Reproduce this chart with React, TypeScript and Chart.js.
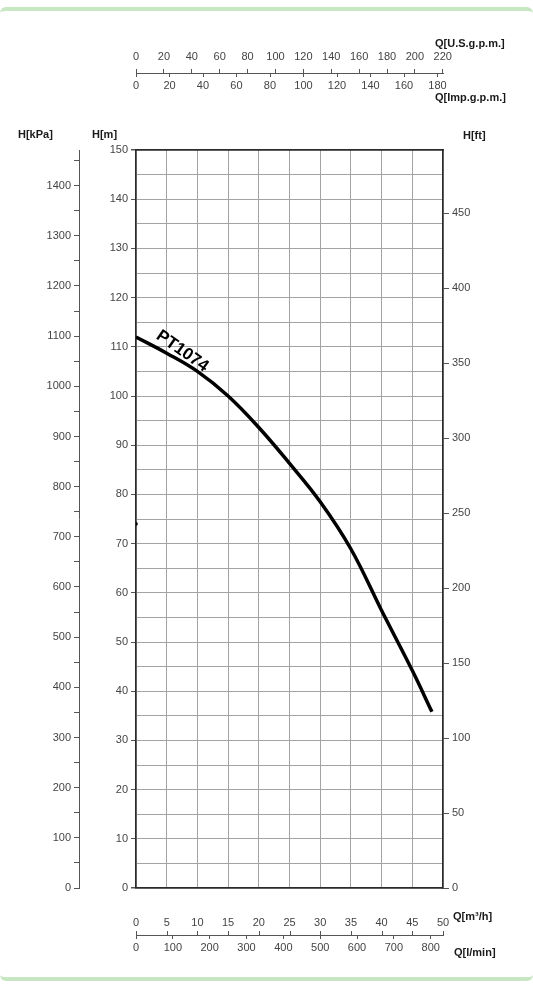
import React, { useEffect, useRef } from 'react';
import { Chart, registerables } from 'chart.js';

Chart.register(...registerables);

// ---- data ----
const flowM3h = [0, 5, 10, 15, 20, 25, 30, 35, 40, 45, 48.2];
const headM = [112, 108.7, 105, 100, 93.6, 86.3, 78.5, 68.9, 56.4, 44.2, 35.8];
const markFlow = [0];
const markHead = [74];

const curveName = 'PT1074';
const curveNameFlow = 7.55;
const curveNameHead = 109.1;

// ---- tick labels ----
const m3hTicks = [0, 5, 10, 15, 20, 25, 30, 35, 40, 45, 50];
const lminTicks = [0, 100, 200, 300, 400, 500, 600, 700, 800];
const usGpmTicks = [0, 20, 40, 60, 80, 100, 120, 140, 160, 180, 200, 220];
const impGpmTicks = [0, 20, 40, 60, 80, 100, 120, 140, 160, 180];
const mTicks = [0, 10, 20, 30, 40, 50, 60, 70, 80, 90, 100, 110, 120, 130, 140, 150];
const kpaTicks = [0, 100, 200, 300, 400, 500, 600, 700, 800, 900, 1000, 1100, 1200, 1300, 1400];
const ftTicks = [0, 50, 100, 150, 200, 250, 300, 350, 400, 450];

// ---- axis ranges / unit conversions ----
const Q_MAX = 50;
const H_MAX = 150;
const KPA_PER_M = 9.80665;
const FT_PER_M = 1 / 0.3048;
const USGPM_PER_M3H = 4.402868;
const IMPGPM_PER_M3H = 3.666154;
const LMIN_PER_M3H = 1000 / 60;

const BORDER = '#2b2b2b';
const GRID = '#a3a3a3';
const TICK = '#555555';
const LABEL = '#444444';
const FONT = '"Liberation Sans", Arial, Helvetica, sans-serif';
const tickFont = { family: FONT, size: 11 };

const auxPlugin = {
  id: 'auxPlugin',
  afterDraw(chart: any) {
    const { ctx, scales } = chart;
    const us = scales.xUS;
    const imp = scales.xImp;
    const x = scales.x;
    const xl = scales.xL;
    const y = scales.y;
    ctx.save();
    ctx.strokeStyle = TICK;
    ctx.lineWidth = 1;
    ctx.beginPath();
    impGpmTicks.forEach((v) => {
      const px = Math.round(imp.getPixelForValue(v)) + 0.5;
      ctx.moveTo(px, us.bottom);
      ctx.lineTo(px, us.bottom + 4);
    });
    m3hTicks.forEach((v) => {
      const px = Math.round(x.getPixelForValue(v)) + 0.5;
      ctx.moveTo(px, xl.top - 4);
      ctx.lineTo(px, xl.top);
    });
    ctx.stroke();

    // curve name
    const cx = x.getPixelForValue(curveNameFlow);
    const cy = y.getPixelForValue(curveNameHead);
    ctx.translate(cx, cy);
    ctx.rotate((35 * Math.PI) / 180);
    ctx.font = `bold 17px ${FONT}`;
    ctx.fillStyle = '#000';
    ctx.textAlign = 'center';
    ctx.textBaseline = 'middle';
    ctx.fillText(curveName, 0, 0);
    ctx.restore();
  },
};

const fixWidth = (w: number) => (s: any) => {
  s.width = w;
};
const fixHeight = (h: number) => (s: any) => {
  s.height = h;
};

const titleStyle = (left: number, top: number): React.CSSProperties => ({
  position: 'absolute',
  left,
  top,
  font: `bold 11px ${FONT}`,
  lineHeight: '12px',
  color: '#1a1a1a',
  whiteSpace: 'nowrap',
});

export default function App() {
  const ref = useRef<HTMLCanvasElement>(null);

  useEffect(() => {
    if (!ref.current) return;
    const edge = (max: number) => (c: any) =>
      c.tick && (c.tick.value === 0 || c.tick.value === max) ? BORDER : GRID;
    const edgeW = (max: number) => (c: any) =>
      c.tick && (c.tick.value === 0 || c.tick.value === max) ? 1.5 : 1;

    const chart = new Chart(ref.current, {
      type: 'line',
      data: {
        datasets: [
          {
            label: curveName,
            data: flowM3h.map((q, i) => ({ x: q, y: headM[i] })),
            borderColor: '#000',
            borderWidth: 3.5,
            pointRadius: 0,
            tension: 0.4,
            xAxisID: 'x',
            yAxisID: 'y',
          },
          {
            label: 'mark',
            data: markFlow.map((q, i) => ({ x: q, y: markHead[i] })),
            showLine: false,
            pointRadius: 1.8,
            pointBackgroundColor: '#000',
            pointBorderWidth: 0,
            xAxisID: 'x',
            yAxisID: 'y',
          },
        ],
      },
      options: {
        animation: false,
        responsive: false,
        layout: { padding: 0 },
        plugins: { legend: { display: false }, tooltip: { enabled: false } },
        scales: {
          x: {
            type: 'linear',
            position: 'bottom',
            weight: 0,
            min: 0,
            max: Q_MAX,
            afterBuildTicks: (s: any) => {
              s.ticks = m3hTicks.map((value) => ({ value }));
            },
            afterFit: fixHeight(47),
            grid: { color: edge(Q_MAX), lineWidth: edgeW(Q_MAX), drawTicks: false },
            border: { display: true, color: BORDER, width: 1.5 },
            ticks: { padding: 28, font: tickFont, color: LABEL, autoSkip: false, maxRotation: 0, callback: (v: any) => String(v) },
          },
          xL: {
            type: 'linear',
            position: 'bottom',
            weight: 10,
            min: 0,
            max: Q_MAX * LMIN_PER_M3H,
            afterBuildTicks: (s: any) => {
              s.ticks = lminTicks.map((value) => ({ value }));
            },
            afterFit: fixHeight(57),
            grid: { drawOnChartArea: false, drawTicks: true, tickLength: 4, tickColor: TICK },
            border: { display: true, color: TICK, width: 1 },
            ticks: { padding: 2.5, font: tickFont, color: LABEL, autoSkip: false, maxRotation: 0, callback: (v: any) => String(v) },
          },
          xImp: {
            type: 'linear',
            position: 'top',
            weight: 0,
            min: 0,
            max: Q_MAX * IMPGPM_PER_M3H,
            afterBuildTicks: (s: any) => {
              s.ticks = impGpmTicks.map((value) => ({ value }));
            },
            afterFit: fixHeight(77),
            grid: { drawOnChartArea: false, drawTicks: false },
            border: { display: true, color: BORDER, width: 1.5 },
            ticks: { padding: 57, font: tickFont, color: LABEL, autoSkip: false, maxRotation: 0, callback: (v: any) => String(v) },
          },
          xUS: {
            type: 'linear',
            position: 'top',
            weight: 10,
            min: 0,
            max: Q_MAX * USGPM_PER_M3H,
            afterBuildTicks: (s: any) => {
              s.ticks = usGpmTicks.map((value) => ({ value }));
            },
            afterFit: fixHeight(73),
            grid: { drawOnChartArea: false, drawTicks: true, tickLength: 4, tickColor: TICK },
            border: { display: true, color: TICK, width: 1 },
            ticks: { padding: 5, font: tickFont, color: LABEL, autoSkip: false, maxRotation: 0, callback: (v: any) => String(v) },
          },
          y: {
            type: 'linear',
            position: 'left',
            weight: 0,
            min: 0,
            max: H_MAX,
            afterFit: fixWidth(57),
            grid: {
              color: edge(H_MAX),
              lineWidth: edgeW(H_MAX),
              drawTicks: true,
              tickLength: 5,
              tickColor: (c: any) => (c.tick && mTicks.includes(c.tick.value) ? TICK : 'rgba(0,0,0,0)'),
            },
            border: { display: true, color: BORDER, width: 1.5 },
            ticks: {
              stepSize: 5,
              padding: 3,
              font: tickFont,
              color: LABEL,
              autoSkip: false,
              callback: (v: any) => (mTicks.includes(v) ? String(v) : ''),
            },
          },
          yKpa: {
            type: 'linear',
            position: 'left',
            weight: 10,
            min: 0,
            max: H_MAX * KPA_PER_M,
            afterFit: fixWidth(79),
            grid: { drawOnChartArea: false, drawTicks: true, tickLength: 5, tickColor: TICK },
            border: { display: true, color: TICK, width: 1 },
            ticks: {
              stepSize: 50,
              includeBounds: false,
              padding: 3,
              font: tickFont,
              color: LABEL,
              autoSkip: false,
              callback: (v: any) => (kpaTicks.includes(v) ? String(v) : ''),
            },
          },
          yFt: {
            type: 'linear',
            position: 'right',
            min: 0,
            max: H_MAX * FT_PER_M,
            afterBuildTicks: (s: any) => {
              s.ticks = ftTicks.map((value) => ({ value }));
            },
            afterFit: fixWidth(90),
            grid: { drawOnChartArea: false, drawTicks: true, tickLength: 6, tickColor: TICK },
            border: { display: true, color: BORDER, width: 1.5 },
            ticks: { padding: 3, font: tickFont, color: LABEL, autoSkip: false, callback: (v: any) => String(v) },
          },
        },
      } as any,
      plugins: [auxPlugin],
    });
    return () => chart.destroy();
  }, []);

  return (
    <div style={{ position: 'absolute', left: 0, top: 0, width: 533, height: 992, background: '#fff', overflow: 'hidden' }}>
      <div
        style={{
          position: 'absolute',
          left: 0,
          top: 7,
          width: 533,
          height: 966,
          borderTop: '4px solid #c7e6c2',
          borderBottom: '4px solid #c7e6c2',
          borderRadius: 6,
          boxSizing: 'content-box',
        }}
      />
      <canvas ref={ref} width={533} height={992} style={{ position: 'absolute', left: 0, top: 0 }} />
      <div style={titleStyle(18, 128)}>H[kPa]</div>
      <div style={titleStyle(92, 128)}>H[m]</div>
      <div style={titleStyle(463, 129)}>H[ft]</div>
      <div style={titleStyle(435, 37)}>Q[U.S.g.p.m.]</div>
      <div style={titleStyle(435, 91)}>Q[Imp.g.p.m.]</div>
      <div style={titleStyle(453, 910)}>Q[m³/h]</div>
      <div style={titleStyle(454, 946)}>Q[l/min]</div>
    </div>
  );
}
